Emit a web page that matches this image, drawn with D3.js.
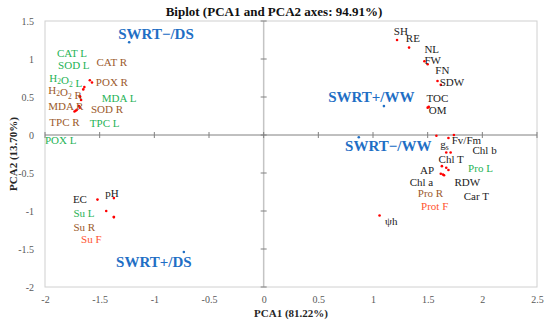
<!DOCTYPE html>
<html>
<head>
<meta charset="utf-8">
<script src="https://cdn.jsdelivr.net/npm/d3@7"></script>
<style>
  body { margin: 0; background: #fff; }
  svg { display: block; font-family: "Liberation Serif", "Times New Roman", serif; }
</style>
</head>
<body>
<div id="chart"></div>
<script>
// variables (red points)
var varNames = ["SH", "RE", "NL", "FW", "FN", "SDW", "TOC", "OM",
  "CAT L", "SOD L", "H_2O_2 L", "CAT R", "POX R", "H_2O_2 R", "MDA L", "SOD R", "MDA R", "TPC R", "TPC L", "POX L",
  "Fv/Fm", "g_s", "Chl b", "Chl T", "Pro L", "AP", "Chl a", "RDW", "Pro R", "Car T", "Prot F", "ψh",
  "EC", "pH", "Su L", "Su R", "Su F"];
var varX = [1.22, 1.33, 1.47, 1.50, 1.59, 1.62, 1.50, 1.51,
  -1.59, -1.57, -1.64, -1.65, -1.68, -1.67, -1.69, -1.68, -1.72, -1.73, -1.71, -1.68,
  1.74, 1.69, 1.58, 1.67, 1.71, 1.63, 1.67, 1.69, 1.62, 1.65, 1.64, 1.06,
  -1.52, -1.37, -1.44, -1.37, -1.37];
var varY = [1.25, 1.15, 0.97, 0.93, 0.71, 0.66, 0.36, 0.37,
  0.72, 0.69, 0.63, 0.60, 0.50, 0.46, 0.38, 0.36, 0.32, 0.31, 0.33, 0.51,
  0.00, -0.04, -0.01, -0.23, -0.23, -0.41, -0.43, -0.46, -0.51, -0.53, -0.52, -1.06,
  -0.85, -0.83, -1.00, -1.08, -1.08];
// label colour group: k black, g leaf (green), b root (brown), r fruit (red)
var varGroup = ["k", "k", "k", "k", "k", "k", "k", "k",
  "g", "g", "g", "b", "b", "b", "g", "b", "b", "b", "g", "g",
  "k", "k", "k", "k", "g", "k", "k", "k", "b", "k", "r", "k",
  "k", "k", "g", "b", "r"];

// treatments (blue points)
var trtNames = ["SWRT−/DS", "SWRT+/WW", "SWRT−/WW", "SWRT+/DS"];
var trtX = [-1.23, 1.10, 0.87, -0.73];
var trtY = [1.22, 0.38, -0.03, -1.54];

var xTicks = [-2, -1.5, -1, -0.5, 0, 0.5, 1, 1.5, 2, 2.5];
var yTicks = [-2, -1.5, -1, -0.5, 0, 0.5, 1, 1.5];

// label anchors (data units, left / baseline), placed by hand like in the original
var varLabelAt = [[1.19, 1.32], [1.30, 1.22], [1.47, 1.08], [1.47, 0.94], [1.57, 0.80], [1.61, 0.64], [1.49, 0.44], [1.51, 0.28],
  [-1.89, 1.03], [-1.88, 0.87], [-1.96, 0.70], [-1.53, 0.91], [-1.535, 0.645], [-1.97, 0.54], [-1.48, 0.44], [-1.58, 0.29], [-1.97, 0.33], [-1.96, 0.12], [-1.59, 0.10], [-2.0, -0.12],
  [1.72, -0.12], [1.615, -0.165], [1.91, -0.255], [1.60, -0.365], [1.87, -0.49], [1.43, -0.515], [1.335, -0.665], [1.745, -0.67], [1.41, -0.81], [1.83, -0.855], [1.44, -0.99], [1.11, -1.19],
  [-1.745, -0.89], [-1.45, -0.81], [-1.74, -1.08], [-1.74, -1.26], [-1.67, -1.425]];
var trtLabelAt = [[-1.33, 1.26], [0.59, 0.43], [0.745, -0.21], [-1.35, -1.74]];

var colors = { k: "#222", g: "#1fb356", b: "#9b5a2c", r: "#ff5330" };

var W = 550, H = 327;
var margin = { top: 21, right: 13, bottom: 40, left: 45 };

var svg = d3.select("#chart").append("svg")
  .attr("width", W).attr("height", H);

var x = d3.scaleLinear().domain([-2, 2.5]).range([margin.left, W - margin.right]);
var y = d3.scaleLinear().domain([-2, 1.5]).range([H - margin.bottom, margin.top]);

// plot frame
svg.append("rect")
  .attr("x", x(-2)).attr("y", y(1.5))
  .attr("width", x(2.5) - x(-2)).attr("height", y(-2) - y(1.5))
  .attr("fill", "none").attr("stroke", "#d0d0d0").attr("stroke-width", 1);

// vertical zero axis with crossing ticks
svg.append("line")
  .attr("x1", x(0)).attr("x2", x(0)).attr("y1", y(1.5)).attr("y2", y(-2))
  .attr("stroke", "#c4c4c4").attr("stroke-width", 1.5);
svg.selectAll(".ytk").data(yTicks).enter().append("line")
  .attr("x1", x(0) - 3).attr("x2", x(0) + 3)
  .attr("y1", function(d){ return y(d); }).attr("y2", function(d){ return y(d); })
  .attr("stroke", "#808080");

// horizontal zero axis with crossing ticks
svg.append("line")
  .attr("x1", x(-2)).attr("x2", x(2.5)).attr("y1", y(0)).attr("y2", y(0))
  .attr("stroke", "#808080").attr("stroke-width", 1);
svg.selectAll(".xtk").data(xTicks).enter().append("line")
  .attr("x1", function(d){ return x(d); }).attr("x2", function(d){ return x(d); })
  .attr("y1", y(0) - 3).attr("y2", y(0) + 3)
  .attr("stroke", "#808080");

// tick labels at low positions
var fmt = function(d){ return String(d); };
var xAxis = svg.append("g")
  .attr("transform", "translate(0," + (y(-2) + 6) + ")")
  .call(d3.axisBottom(x).tickValues(xTicks).tickSize(0).tickFormat(fmt));
var yAxis = svg.append("g")
  .attr("transform", "translate(" + (x(-2) - 8) + ",0)")
  .call(d3.axisLeft(y).tickValues(yTicks).tickSize(0).tickFormat(fmt));
[xAxis, yAxis].forEach(function(g){
  g.select(".domain").remove();
  g.selectAll("text")
    .attr("font-family", "Liberation Serif, Times New Roman, serif")
    .attr("font-size", 10).attr("fill", "#595959");
});

// titles
svg.append("text")
  .attr("x", 274).attr("y", 15.5).attr("text-anchor", "middle")
  .attr("font-size", 13).attr("font-weight", "bold").attr("fill", "#111")
  .text("Biplot (PCA1 and PCA2 axes: 94.91%)");
svg.append("text")
  .attr("x", (x(-2) + x(2.5)) / 2).attr("y", 317).attr("text-anchor", "middle")
  .attr("font-size", 11).attr("font-weight", "bold").attr("fill", "#262626")
  .text("PCA1 (81.22%)");
svg.append("text")
  .attr("transform", "translate(17," + ((y(1.5) + y(-2)) / 2) + ") rotate(-90)")
  .attr("text-anchor", "middle")
  .attr("font-size", 11).attr("font-weight", "bold").attr("fill", "#262626")
  .text("PCA2 (13.70%)");

// points
svg.selectAll(".vpt").data(varNames).enter().append("circle")
  .attr("cx", function(d, i){ return x(varX[i]); })
  .attr("cy", function(d, i){ return y(varY[i]); })
  .attr("r", 1.3).attr("fill", "#ff0000");
svg.selectAll(".tpt").data(trtNames).enter().append("circle")
  .attr("cx", function(d, i){ return x(trtX[i]); })
  .attr("cy", function(d, i){ return y(trtY[i]); })
  .attr("r", 1.3).attr("fill", "#1f6fc5");

// labels, "_" marks a one-character subscript
function addLabel(sel, s) {
  var parts = s.split(/(_.)/);
  parts.forEach(function(p){
    if (!p) return;
    if (p[0] === "_") {
      sel.append("tspan").attr("font-size", 7.5).attr("dy", 2.5).text(p[1]);
      sel.append("tspan").attr("dy", -2.5).text("");
    } else {
      sel.append("tspan").text(p);
    }
  });
}
svg.selectAll(".vlab").data(varNames).enter().append("text")
  .attr("x", function(d, i){ return x(varLabelAt[i][0]); })
  .attr("y", function(d, i){ return y(varLabelAt[i][1]); })
  .attr("font-size", 11)
  .attr("fill", function(d, i){ return colors[varGroup[i]]; })
  .each(function(d){ addLabel(d3.select(this), d); });

svg.selectAll(".tlab").data(trtNames).enter().append("text")
  .attr("x", function(d, i){ return x(trtLabelAt[i][0]); })
  .attr("y", function(d, i){ return y(trtLabelAt[i][1]); })
  .attr("font-size", 15).attr("font-weight", "bold")
  .attr("fill", "#1f6fc5")
  .text(function(d){ return d; });
</script>
</body>
</html>
